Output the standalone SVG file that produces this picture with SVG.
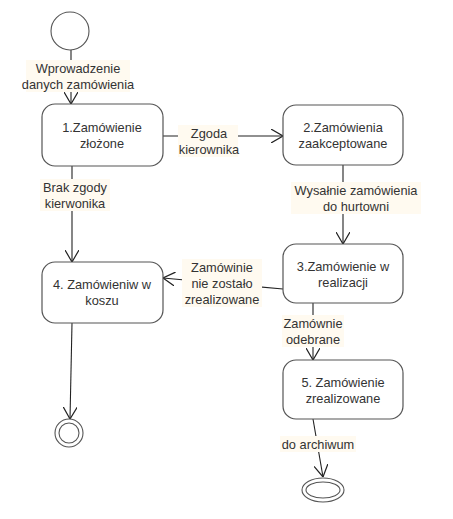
<svg xmlns="http://www.w3.org/2000/svg" width="453" height="519" viewBox="0 0 453 519">
<defs>
<marker id="arr" viewBox="0 0 12 14" refX="12" refY="7" markerWidth="12" markerHeight="14" markerUnits="userSpaceOnUse" orient="auto">
<path d="M0,0 L12,7 L0,14" fill="none" stroke="#222" stroke-width="1.2"/>
</marker>
<style>
.node rect{fill:#fff;stroke:#555;stroke-width:1.2}
.t{font-family:"Liberation Sans",Arial,sans-serif;font-size:12.8px;fill:#333;text-anchor:middle}
.e{fill:none;stroke:#222;stroke-width:1.1;marker-end:url(#arr)}
.lb{fill:#fffaf0}
.st{fill:#fff;stroke:#555;stroke-width:1.1}
</style>
</defs>
<rect width="453" height="519" fill="#fff"/>
<g id="connectors">
<line class="e" x1="71" y1="50" x2="71" y2="104"/>
<line class="e" x1="163" y1="136" x2="283" y2="136"/>
<line class="e" x1="343" y1="165" x2="343" y2="244"/>
<line class="e" x1="72" y1="166" x2="72" y2="262"/>
<line class="e" x1="283" y1="289" x2="163" y2="278"/>
<line class="e" x1="72" y1="323" x2="70" y2="419"/>
<line class="e" x1="313" y1="303" x2="313" y2="360"/>
<line class="e" x1="313" y1="419" x2="323" y2="477"/>
<rect class="lb" x="26" y="60" width="104" height="32"/>
<text class="t" x="78" y="73">Wprowadzenie</text>
<text class="t" x="78" y="89">danych zamówienia</text>
<rect class="lb" x="178" y="125" width="60" height="32"/>
<text class="t" x="209" y="138">Zgoda</text>
<text class="t" x="209" y="154">kierownika</text>
<rect class="lb" x="291" y="182" width="130" height="32"/>
<text class="t" x="356" y="195">Wysałnie zamówienia</text>
<text class="t" x="356" y="211">do hurtowni</text>
<rect class="lb" x="40" y="179" width="70" height="32"/>
<text class="t" x="75" y="192">Brak zgody</text>
<text class="t" x="75" y="208">kierwonika</text>
<rect class="lb" x="182" y="259" width="80" height="48"/>
<text class="t" x="222" y="272">Zamówinie</text>
<text class="t" x="222" y="288">nie zostało</text>
<text class="t" x="222" y="304">zrealizowane</text>
<rect class="lb" x="282" y="315" width="62" height="32"/>
<text class="t" x="313" y="328">Zamównie</text>
<text class="t" x="313" y="344">odebrane</text>
<rect class="lb" x="280" y="436" width="76" height="16"/>
<text class="t" x="318" y="449">do archiwum</text>
</g>
<g id="start"><circle class="st" cx="70" cy="31" r="19"/></g>
<g id="n1" class="node"><rect x="42" y="104" width="121" height="62" rx="13"/>
<text class="t" x="102" y="132">1.Zamówienie</text><text class="t" x="102" y="148">złożone</text></g>
<g id="n2" class="node"><rect x="283" y="105" width="120" height="60" rx="13"/>
<text class="t" x="343" y="132">2.Zamówienia</text><text class="t" x="343" y="148">zaakceptowane</text></g>
<g id="n3" class="node"><rect x="283" y="244" width="120" height="59" rx="13"/>
<text class="t" x="343" y="271">3.Zamówienie w</text><text class="t" x="343" y="287">realizacji</text></g>
<g id="n4" class="node"><rect x="42" y="262" width="121" height="61" rx="13"/>
<text class="t" x="102" y="289">4. Zamówieniw w</text><text class="t" x="102" y="305">koszu</text></g>
<g id="n5" class="node"><rect x="283" y="360" width="120" height="59" rx="13"/>
<text class="t" x="343" y="387">5. Zamówienie</text><text class="t" x="343" y="403">zrealizowane</text></g>
<g id="end1"><circle class="st" cx="69" cy="433" r="14"/><circle class="st" cx="69" cy="433" r="10"/></g>
<g id="end2"><ellipse class="st" cx="323" cy="490" rx="21" ry="12"/><ellipse class="st" cx="323" cy="490" rx="17" ry="8"/></g>
</svg>
